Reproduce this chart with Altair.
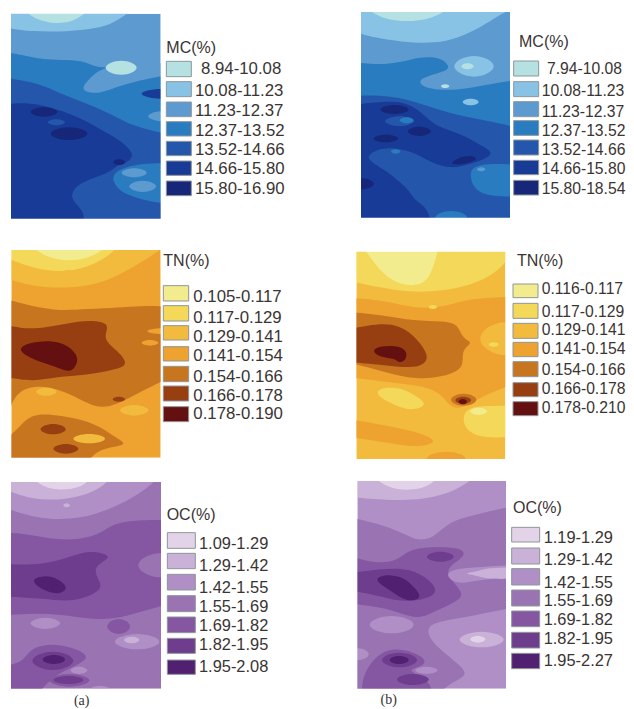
import altair as alt
import pandas as pd

MC_COLORS = ["#b5e1e2", "#88c2e5", "#5c9ad0", "#2a7cc0", "#2457ab", "#173b96", "#16277a"]
TN_COLORS = ["#f2ec8e", "#f4d85a", "#f2bb3e", "#eea22f", "#c87520", "#983f12", "#651010"]
OC_COLORS = ["#e3d3e9", "#c9b1d8", "#b08fc6", "#9a73b2", "#8556a2", "#6e3d8d", "#522070"]

MC_A_LABELS = ["8.94-10.08", "10.08-11.23", "11.23-12.37", "12.37-13.52", "13.52-14.66", "14.66-15.80", "15.80-16.90"]
MC_B_LABELS = ["7.94-10.08", "10.08-11.23", "11.23-12.37", "12.37-13.52", "13.52-14.66", "14.66-15.80", "15.80-18.54"]
TN_A_LABELS = ["0.105-0.117", "0.117-0.129", "0.129-0.141", "0.141-0.154", "0.154-0.166", "0.166-0.178", "0.178-0.190"]
TN_B_LABELS = ["0.116-0.117", "0.117-0.129", "0.129-0.141", "0.141-0.154", "0.154-0.166", "0.166-0.178", "0.178-0.210"]
OC_A_LABELS = ["1.09-1.29", "1.29-1.42", "1.42-1.55", "1.55-1.69", "1.69-1.82", "1.82-1.95", "1.95-2.08"]
OC_B_LABELS = ["1.19-1.29", "1.29-1.42", "1.42-1.55", "1.55-1.69", "1.69-1.82", "1.82-1.95", "1.95-2.27"]

# Contour zones painted in order.
# A zone is (class, outline points) or, for an oval patch, (class, (left, right, top, bottom)).
MC_A = [
    (2, [(0,10),(0,85),(100,95),(180,95),(250,90),(320,80),(370,50),(400,10)]),
    (1, [(70,26),(100,55),(150,70),(200,70),(240,52),(270,26)]),
    (4, [(0,158),(90,170),(130,178),(180,180),(250,180),(290,205),(350,200),(515,200),(515,700),(0,700)]),
    (3, [(245,265),(262,243),(292,213),(330,198),(400,195),(515,188),(515,222),(400,245),(340,265),(300,280),(260,278)]),
    (1, (317,410,182,224)),
    (5, [(0,235),(90,245),(140,260),(190,285),(260,310),(340,345),(400,380),(515,405),(515,700),(0,700)]),
    (6, (425,540,267,296)),
    (3, (445,540,333,364)),
    (6, [(0,312),(80,308),(150,320),(220,345),(290,380),(340,410),(372,430),(405,465),(380,490),(350,495),(330,520),(228,548),(205,600),(262,635),(240,700),(0,700)]),
    (4, [(335,540),(345,515),(390,497),(440,490),(515,490),(515,612),(450,605),(400,590),(360,575)]),
    (3, (365,440,505,532)),
    (3, (388,468,542,576)),
    (7, (92,172,322,350)),
    (7, (152,262,382,420)),
    (7, (340,375,478,495)),
    (5, (143,195,358,376)),
]
MC_B = [
    (2, [(100,5),(100,92),(180,115),(250,125),(340,130),(400,122),(480,90),(560,36),(590,5)]),
    (1, [(150,26),(200,58),(270,66),(340,58),(395,26)]),
    (4, [(100,185),(180,195),(250,188),(310,170),(370,172),(395,195),(395,212),(330,228),(300,245),(330,268),(420,272),(500,255),(612,238),(612,690),(100,690)]),
    (2, (412,530,168,230)),
    (1, (433,470,190,208)),
    (1, (372,397,253,264)),
    (2, (437,485,296,316)),
    (5, [(100,288),(200,285),(280,300),(350,325),(420,345),(500,360),(612,385),(612,690),(100,690)]),
    (6, [(100,315),(190,305),(260,305),(305,328),(350,378),(430,400),(480,430),(535,458),(500,480),(440,497),(400,505),(345,490),(300,460),(230,440),(165,452),(145,478),(200,505),(280,572),(290,600),(335,625),(345,690),(100,690)]),
    (4, [(457,520),(470,500),(510,490),(612,495),(612,590),(520,590),(470,570)]),
    (3, (480,505,502,514)),
    (4, (355,450,633,673)),
    (5, (205,290,349,378)),
    (4, (248,290,352,370)),
    (7, (190,275,315,342)),
    (7, (272,342,380,408)),
    (7, (170,243,404,427)),
    (7, [(398,490),(425,472),(465,465),(485,478),(450,490),(420,495)]),
    (7, (100,170,535,568)),
    (4, (222,250,448,461)),
]
TN_A = [
    (3, [(0,14),(0,133),(100,155),(200,160),(290,150),(380,110),(482,45),(515,14)]),
    (2, [(0,14),(0,72),(100,100),(180,112),(260,100),(340,55),(365,14)]),
    (1, [(75,15),(130,65),(200,80),(280,68),(345,15)]),
    (3, (180,228,105,127)),
    (5, [(0,195),(100,215),(180,228),(260,222),(360,218),(420,212),(515,215),(515,425),(420,470),(350,510),(290,522),(220,480),(130,448),(50,465),(0,530)]),
    (4, (442,530,280,297)),
    (4, (425,475,315,332)),
    (6, [(0,272),(100,285),(200,265),(270,255),(335,265),(305,310),(350,345),(390,390),(340,405),(260,420),(170,425),(100,440),(0,428)]),
    (7, [(50,345),(80,325),(130,317),(185,322),(220,345),(237,372),(222,405),(200,410),(170,395),(100,375)]),
    (6, (338,375,485,500)),
    (3, (108,170,458,482)),
    (3, (360,445,510,542)),
    (5, [(0,605),(60,575),(95,535),(180,540),(290,565),(340,605),(395,632),(285,640),(255,700),(0,700)]),
    (6, (122,197,567,598)),
    (6, (160,235,627,656)),
    (3, (220,315,597,625)),
]
TN_B = [
    (2, [(85,15),(85,135),(200,160),(300,175),(450,160),(565,100),(600,15)]),
    (1, [(125,15),(180,100),(240,150),(320,155),(350,100),(370,15)]),
    (4, [(85,188),(200,195),(290,222),(390,215),(450,190),(600,185),(600,445),(500,480),(440,520),(400,520),(370,470),(300,450),(200,440),(85,425)]),
    (3, (490,640,262,360)),
    (2, (515,545,322,335)),
    (2, (335,360,210,222)),
    (5, [(85,230),(200,240),(290,258),(380,258),(425,268),(435,312),(472,322),(430,345),(445,400),(380,425),(300,435),(200,410),(85,380)]),
    (6, [(85,285),(180,265),(250,270),(300,310),(335,360),(325,388),(280,400),(200,390),(85,380)]),
    (7, [(162,347),(190,332),(250,332),(270,350),(268,375),(245,385),(235,370),(190,367)]),
    (5, (402,478,476,512)),
    (6, (415,462,485,506)),
    (7, (425,450,492,508)),
    (2, [(170,475),(200,455),(260,460),(300,485),(335,510),(280,530),(220,505)]),
    (2, [(435,550),(450,520),(500,512),(600,512),(600,605),(500,610),(450,590)]),
    (1, (460,510,518,540)),
    (4, [(85,550),(200,570),(300,590),(372,620),(300,640),(200,620),(85,605)]),
    (4, (330,445,650,690)),
]
OC_A = [
    (3, [(0,5),(0,118),(120,148),(240,148),(340,115),(440,60),(490,5)]),
    (2, [(0,5),(0,63),(100,90),(200,90),(300,62),(350,5)]),
    (1, [(75,5),(130,55),(200,62),(260,45),(285,5)]),
    (2, (190,210,100,112)),
    (5, [(0,188),(100,195),(200,215),(300,195),(330,165),(400,150),(515,150),(515,400),(420,425),(340,450),(250,445),(150,428),(0,435)]),
    (4, (415,550,250,322)),
    (6, [(0,283),(130,285),(210,260),(270,240),(330,255),(320,270),(275,295),(305,340),(300,365),(220,398),(130,385),(0,380)]),
    (7, [(88,330),(130,315),(175,325),(208,355),(175,375),(130,362)]),
    (5, (322,390,447,492)),
    (3, (92,180,443,477)),
    (3, (345,478,492,538)),
    (2, (372,418,500,520)),
    (5, [(0,585),(70,575),(95,530),(170,520),(240,540),(272,565),(210,595),(150,625),(100,690),(0,690)]),
    (6, (97,220,545,600)),
    (7, (128,195,555,582)),
    (5, (148,268,612,650)),
    (6, (160,250,618,642)),
    (3, (212,262,590,612)),
    (3, (270,330,648,668)),
]
OC_B = [
    (2, [(90,5),(90,80),(200,90),(300,92),(400,70),(460,33),(490,5)]),
    (1, [(150,5),(210,55),(280,62),(340,50),(375,5)]),
    (4, [(90,140),(200,165),(270,195),(300,212),(350,205),(395,155),(470,135),(600,105),(600,410),(400,450),(318,465),(350,530),(470,612),(410,630),(345,690),(90,690)]),
    (5, [(90,255),(170,280),(240,275),(270,240),(340,230),(430,232),(450,255),(400,285),(385,315),(445,370),(420,395),(340,430),(300,450),(200,410),(90,400)]),
    (3, [(380,312),(420,295),(500,290),(600,285),(600,320),(480,330),(420,345)]),
    (2, [(435,310),(480,305),(510,293),(600,292),(600,326),(510,328),(480,316)]),
    (6, [(90,310),(200,295),(280,295),(340,330),(372,375),(270,400),(200,380),(90,360)]),
    (7, [(168,330),(200,312),(260,320),(290,350),(320,385),(268,398),(220,360)]),
    (6, (330,410,245,275)),
    (3, (158,290,438,490)),
    (3, (90,155,535,570)),
    (2, (428,560,485,532)),
    (1, (460,505,498,518)),
    (5, [(133,615),(190,540),(260,535),(330,565),(320,590),(260,600),(345,630),(345,690),(135,690)]),
    (6, (195,300,548,592)),
    (7, (218,275,558,582)),
    (6, (240,335,612,645)),
    (3, (295,362,590,612)),
]

# (top, bottom) of each legend key and centre of each legend label
MC_A_KEYS = [(184,230),(245,290),(306,350),(365,408),(424,467),(483,526),(543,587)]
MC_A_TEXT_Y = [208,273,334,393,451,506,568]
MC_B_KEYS = [(183,228),(245,290),(305,350),(362,406),(420,465),(481,524),(541,585)]
MC_B_TEXT_Y = [208,272,335,392,450,506,567]
TN_A_KEYS = [(152,198),(212,258),(272,315),(335,378),(394,440),(453,498),(515,560)]
TN_A_TEXT_Y = [185,250,305,362,425,483,538]
TN_B_KEYS = [(147,188),(205,250),(265,310),(322,365),(380,425),(443,485),(500,542)]
TN_B_TEXT_Y = [162,230,285,342,405,463,518]
OC_A_KEYS = [(188,235),(250,296),(313,360),(377,425),(441,488),(505,550),(570,613)]
OC_A_TEXT_Y = [222,288,353,410,467,524,590]
OC_B_KEYS = [(172,216),(234,282),(296,345),(360,408),(423,470),(487,534),(550,596)]
OC_B_TEXT_Y = [204,270,340,392,450,507,572]

SANS = "Liberation Sans"
CLASSES = list(range(1, 8))


def outline(shape, box, xdom, ydom):
    """Control polygon of a closed B-spline.

    An oval's box gives a diamond 1.5x its half-axes. Outline points lying outside
    the map are pulled inside the panel and repeated so that the spline stays sharp there.
    """
    if not isinstance(shape, list):
        left, right, top, bottom = shape
        cx, cy = (left + right) / 2, (top + bottom) / 2
        rx, ry = (right - left) * 0.75, (bottom - top) * 0.75
        return [(cx - rx, cy), (cx, cy - ry), (cx + rx, cy), (cx, cy + ry)]
    out = []
    for x, y in shape:
        inside = box[0] <= x <= box[1] and box[2] <= y <= box[3]
        x = min(max(x, xdom[0] + 3), xdom[1] - 3)
        y = min(max(y, ydom[0] + 3), ydom[1] - 3)
        out += [(x, y)] * (1 if inside else 3)
    return out


def panel(colors, base, zones, box, xdom, ydom, keys_x, keys, labels, text_x, text_y,
          title, title_xy, size, caption=None):
    w = (xdom[1] - xdom[0]) / 3
    h = (ydom[1] - ydom[0]) / 3
    X = lambda f: alt.X(f, type="quantitative", axis=None,
                        scale=alt.Scale(domain=xdom, nice=False, zero=False))
    Y = lambda f: alt.Y(f, type="quantitative", axis=None,
                        scale=alt.Scale(domain=[ydom[1], ydom[0]], nice=False, zero=False))
    color = alt.Color("cls:N", legend=None,
                      scale=alt.Scale(domain=CLASSES, range=colors))

    rows = []
    for i, (cls, shape) in enumerate(zones):
        for j, (x, y) in enumerate(outline(shape, box, xdom, ydom)):
            rows.append({"zone": i, "o": j, "x": x, "y": y, "cls": cls})
    zone_df = pd.DataFrame(rows)

    x0, x1, y0, y1 = box
    base_rect = alt.Chart(pd.DataFrame([{"x": x0, "x2": x1, "y": y0, "y2": y1, "cls": base}])).mark_rect().encode(
        x=X("x"), x2="x2", y=Y("y"), y2="y2", color=color)
    zone_layer = alt.Chart(zone_df).mark_line(
        filled=True, interpolate="basis-closed", clip=True, strokeWidth=0
    ).encode(x=X("x"), y=Y("y"), color=color, detail="zone:N", order="o:Q")
    masks = pd.DataFrame([
        {"x": xdom[0], "x2": x0, "y": ydom[0], "y2": ydom[1]},
        {"x": x1, "x2": xdom[1], "y": ydom[0], "y2": ydom[1]},
        {"x": xdom[0], "x2": xdom[1], "y": ydom[0], "y2": y0},
        {"x": xdom[0], "x2": xdom[1], "y": y1, "y2": ydom[1]},
    ])
    mask_layer = alt.Chart(masks).mark_rect(color="white", clip=True).encode(
        x=X("x"), x2="x2", y=Y("y"), y2="y2")

    key_df = pd.DataFrame([
        {"x": keys_x[0], "x2": keys_x[1], "y": t, "y2": b, "cls": c}
        for c, (t, b) in zip(CLASSES, keys)
    ])
    key_layer = alt.Chart(key_df).mark_rect(stroke="#8f9698", strokeWidth=1).encode(
        x=X("x"), x2="x2", y=Y("y"), y2="y2", color=color)

    text_df = pd.DataFrame([
        {"x": tx, "y": ty, "t": lab} for tx, ty, lab in zip(text_x, text_y, labels)
    ])
    text_layer = alt.Chart(text_df).mark_text(
        align="left", baseline="middle", font=SANS, fontSize=size, color="#3a3433"
    ).encode(x=X("x"), y=Y("y"), text="t:N")
    title_layer = alt.Chart(pd.DataFrame([{"x": title_xy[0], "y": title_xy[1], "t": title}])).mark_text(
        align="left", baseline="middle", font=SANS, fontSize=16, color="#3a3433"
    ).encode(x=X("x"), y=Y("y"), text="t:N")
    layers = [base_rect, zone_layer, mask_layer, key_layer, text_layer, title_layer]
    if caption:
        layers.append(alt.Chart(pd.DataFrame([{"x": caption[0], "y": caption[1], "t": caption[2]}])).mark_text(
            align="center", baseline="middle", font="Liberation Serif", fontSize=14, color="#333333"
        ).encode(x=X("x"), y=Y("y"), text="t:N"))
    return alt.layer(*layers).properties(width=w, height=h)


C1 = [24, 951]
C2 = [0, 927]
R1 = [24, 717]
R2 = [12, 705]
R3 = [0, 693]

panels = [
    panel(MC_COLORS, 3, MC_A, (33, 482, 41, 656), C1, R1, (499, 574), MC_A_KEYS, MC_A_LABELS,
          [603] + [585] * 6, MC_A_TEXT_Y, "MC(%)", (499, 145), 16.8),
    panel(MC_COLORS, 3, MC_B, (132, 579, 36, 653), C2, R1, (590, 665), MC_B_KEYS, MC_B_LABELS,
          [690] + [674] * 6, MC_B_TEXT_Y, "MC(%)", (606, 125), 15.7),
    panel(TN_COLORS, 4, TN_A, (34, 482, 45, 668), C1, R2, (490, 566), TN_A_KEYS, TN_A_LABELS,
          [580] * 7, TN_A_TEXT_Y, "TN(%)", (490, 78), 16.8),
    panel(TN_COLORS, 3, TN_B, (118, 565, 50, 672), C2, R2, (588, 663), TN_B_KEYS, TN_B_LABELS,
          [674] * 7, TN_B_TEXT_Y, "TN(%)", (600, 78), 15.7),
    panel(OC_COLORS, 4, OC_A, (33, 483, 36, 656), C1, R3, (502, 586), OC_A_KEYS, OC_A_LABELS,
          [597] * 7, OC_A_TEXT_Y, "OC(%)", (500, 135), 16.4, caption=(245, 692, "(a)")),
    panel(OC_COLORS, 3, OC_B, (121, 567, 33, 656), C2, R3, (584, 668), OC_B_KEYS, OC_B_LABELS,
          [680] * 7, OC_B_TEXT_Y, "OC(%)", (588, 115), 16.4, caption=(215, 690, "(b)")),
]

chart = alt.concat(*panels, columns=2, spacing=0, bounds="flush").properties(
    padding=0
).configure_view(strokeWidth=0).resolve_scale(color="independent")

chart.save("out.html", embed_options={"renderer": "svg", "actions": False})
